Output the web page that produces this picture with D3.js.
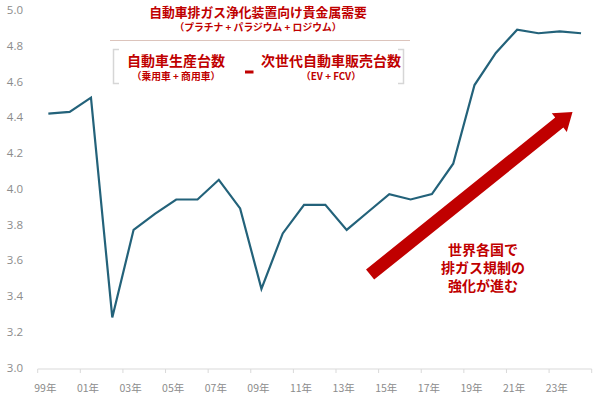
<!DOCTYPE html>
<html>
<head>
<meta charset="utf-8">
<script src="https://cdn.jsdelivr.net/npm/d3@7/dist/d3.min.js"></script>
<style>
  body { margin: 0; background: #fff; }
  svg { display: block; font-family: "Noto Sans CJK JP", "Noto Sans", sans-serif; }
</style>
</head>
<body>
<script>
    // data
    var years = ["99","00","01","02","03","04","05","06","07","08","09","10","11","12",
                 "13","14","15","16","17","18","19","20","21","22","23","24"];
    var values = [4.42, 4.43, 4.51, 3.28, 3.77, 3.86, 3.94, 3.94, 4.05, 3.89, 3.44, 3.75, 3.91, 3.91,
                  3.77, 3.87, 3.97, 3.94, 3.97, 4.14, 4.58, 4.76, 4.89, 4.87, 4.88, 4.87];
    var yTicks = [3.0, 3.2, 3.4, 3.6, 3.8, 4.0, 4.2, 4.4, 4.6, 4.8, 5.0];
    var noteLines = ["世界各国で", "排ガス規制の", "強化が進む"];
    // arrow in data units: [category index, value]
    var arrowFrom = [15.6, 3.52], arrowTo = [25.1, 4.43];

    var w = 600, h = 394;
    var red = "#c00000", lineColor = "#23627a";

    var svg = d3.select("body").append("svg")
            .attr("width", w)
            .attr("height", h);

    var x = d3.scaleBand().domain(years).range([37.7, 591.7]).padding(0);
    var xi = d3.scaleLinear().domain([0, years.length]).range(x.range());
    var y = d3.scaleLinear().domain([3, 5]).range([367.5, 10]);

    // y labels
    svg.append("g").selectAll("text")
        .data(yTicks).enter().append("text")
        .attr("x", 23)
        .attr("y", function (d) { return y(d); })
        .attr("dy", "0.35em")
        .attr("text-anchor", "end")
        .attr("font-size", 11.5)
        .attr("fill", "#8c8c8c")
        .attr("font-family", "'Open Sans', sans-serif")
        .text(function (d) { return d.toFixed(1); });

    // x axis line + ticks every 2 categories
    var base = 369;
    svg.append("line")
        .attr("x1", x.range()[0]).attr("x2", x.range()[1])
        .attr("y1", base).attr("y2", base)
        .attr("stroke", "#d9d9d9").attr("stroke-width", 1);

    var tickPos = years.filter(function (d, i) { return i % 2 == 0; }).map(function (d) { return x(d); });
    tickPos.push(x.range()[1]);
    svg.append("g").selectAll("line")
        .data(tickPos).enter().append("line")
        .attr("x1", function (d) { return d; }).attr("x2", function (d) { return d; })
        .attr("y1", base).attr("y2", base + 4)
        .attr("stroke", "#d9d9d9");

    svg.append("g").selectAll("text")
        .data(years.filter(function (d, i) { return i % 2 == 0; })).enter().append("text")
        .attr("x", function (d) { return x(d) + x.bandwidth() / 2 - 3; })
        .attr("y", 388)
        .attr("dy", "0.35em")
        .attr("text-anchor", "middle")
        .attr("font-size", 10.5)
        .attr("fill", "#8c8c8c")
        .text(function (d) { return d + "年"; });

    // the line
    var line = d3.line()
        .x(function (d, i) { return x(years[i]) + x.bandwidth() / 2; })
        .y(function (d) { return y(d); });

    svg.append("path")
        .datum(values)
        .attr("d", line)
        .attr("fill", "none")
        .attr("stroke", lineColor)
        .attr("stroke-width", 2.2)
        .attr("stroke-linejoin", "miter");

    // big arrow
    var ax0 = xi(arrowFrom[0]), ay0 = y(arrowFrom[1]);
    var ax1 = xi(arrowTo[0]), ay1 = y(arrowTo[1]);
    var len = Math.sqrt((ax1 - ax0) * (ax1 - ax0) + (ay1 - ay0) * (ay1 - ay0));
    var ang = Math.atan2(ay1 - ay0, ax1 - ax0) * 180 / Math.PI;
    var sw = 6.5, hw = 12, hl = 17;
    svg.append("path")
        .attr("transform", "translate(" + ax0 + "," + ay0 + ") rotate(" + ang + ")")
        .attr("d", "M0," + (-sw) + "L" + (len - hl) + "," + (-sw) + "L" + (len - hl) + "," + (-hw) +
                   "L" + len + ",0L" + (len - hl) + "," + hw + "L" + (len - hl) + "," + sw + "L0," + sw + "Z")
        .attr("fill", red);

    // note, one text block with a line per tspan
    var note = svg.append("text")
        .attr("text-anchor", "middle")
        .attr("font-size", 14)
        .attr("font-weight", "bold")
        .attr("fill", red);
    note.selectAll("tspan")
        .data(noteLines).enter().append("tspan")
        .attr("x", 483)
        .attr("y", function (d, i) { return 250.5 + i * 18; })
        .attr("dy", "0.35em")
        .text(function (d) { return d; });

    // formula header
    var hdr = svg.append("g");
    hdr.append("text").attr("x", 258).attr("y", 12.5).attr("dy", "0.35em")
        .attr("text-anchor", "middle").attr("font-size", 12.8).attr("font-weight", "bold")
        .attr("fill", red).text("自動車排ガス浄化装置向け貴金属需要");
    hdr.append("text").attr("x", 258).attr("y", 27.5).attr("dy", "0.35em")
        .attr("text-anchor", "middle").attr("font-size", 9.8).attr("font-weight", "bold")
        .attr("fill", red).text("（プラチナ + パラジウム + ロジウム）");
    hdr.append("line").attr("x1", 110).attr("x2", 410).attr("y1", 40.5).attr("y2", 40.5)
        .attr("stroke", "#dcc4bc").attr("stroke-width", 1);

    hdr.append("path").attr("d", "M119,49.5H113.5V83.5H119")
        .attr("fill", "none").attr("stroke", "#d6d6d6").attr("stroke-width", 1.5);
    hdr.append("path").attr("d", "M398,49.5H403.5V83.5H398")
        .attr("fill", "none").attr("stroke", "#d6d6d6").attr("stroke-width", 1.5);

    hdr.append("text").attr("x", 176).attr("y", 61.5).attr("dy", "0.35em")
        .attr("text-anchor", "middle").attr("font-size", 14).attr("font-weight", "bold")
        .attr("fill", red).text("自動車生産台数");
    hdr.append("text").attr("x", 176).attr("y", 77).attr("dy", "0.35em")
        .attr("text-anchor", "middle").attr("font-size", 9.8).attr("font-weight", "bold")
        .attr("fill", red).text("（乗用車 + 商用車）");
    hdr.append("rect").attr("x", 245).attr("y", 70.5).attr("width", 8.5).attr("height", 3)
        .attr("fill", red);
    hdr.append("text").attr("x", 331).attr("y", 61.5).attr("dy", "0.35em")
        .attr("text-anchor", "middle").attr("font-size", 14).attr("font-weight", "bold")
        .attr("fill", red).text("次世代自動車販売台数");
    hdr.append("text").attr("x", 331).attr("y", 77).attr("dy", "0.35em")
        .attr("text-anchor", "middle").attr("font-size", 9.8).attr("font-weight", "bold")
        .attr("fill", red).text("（EV + FCV）");
</script>
</body>
</html>
